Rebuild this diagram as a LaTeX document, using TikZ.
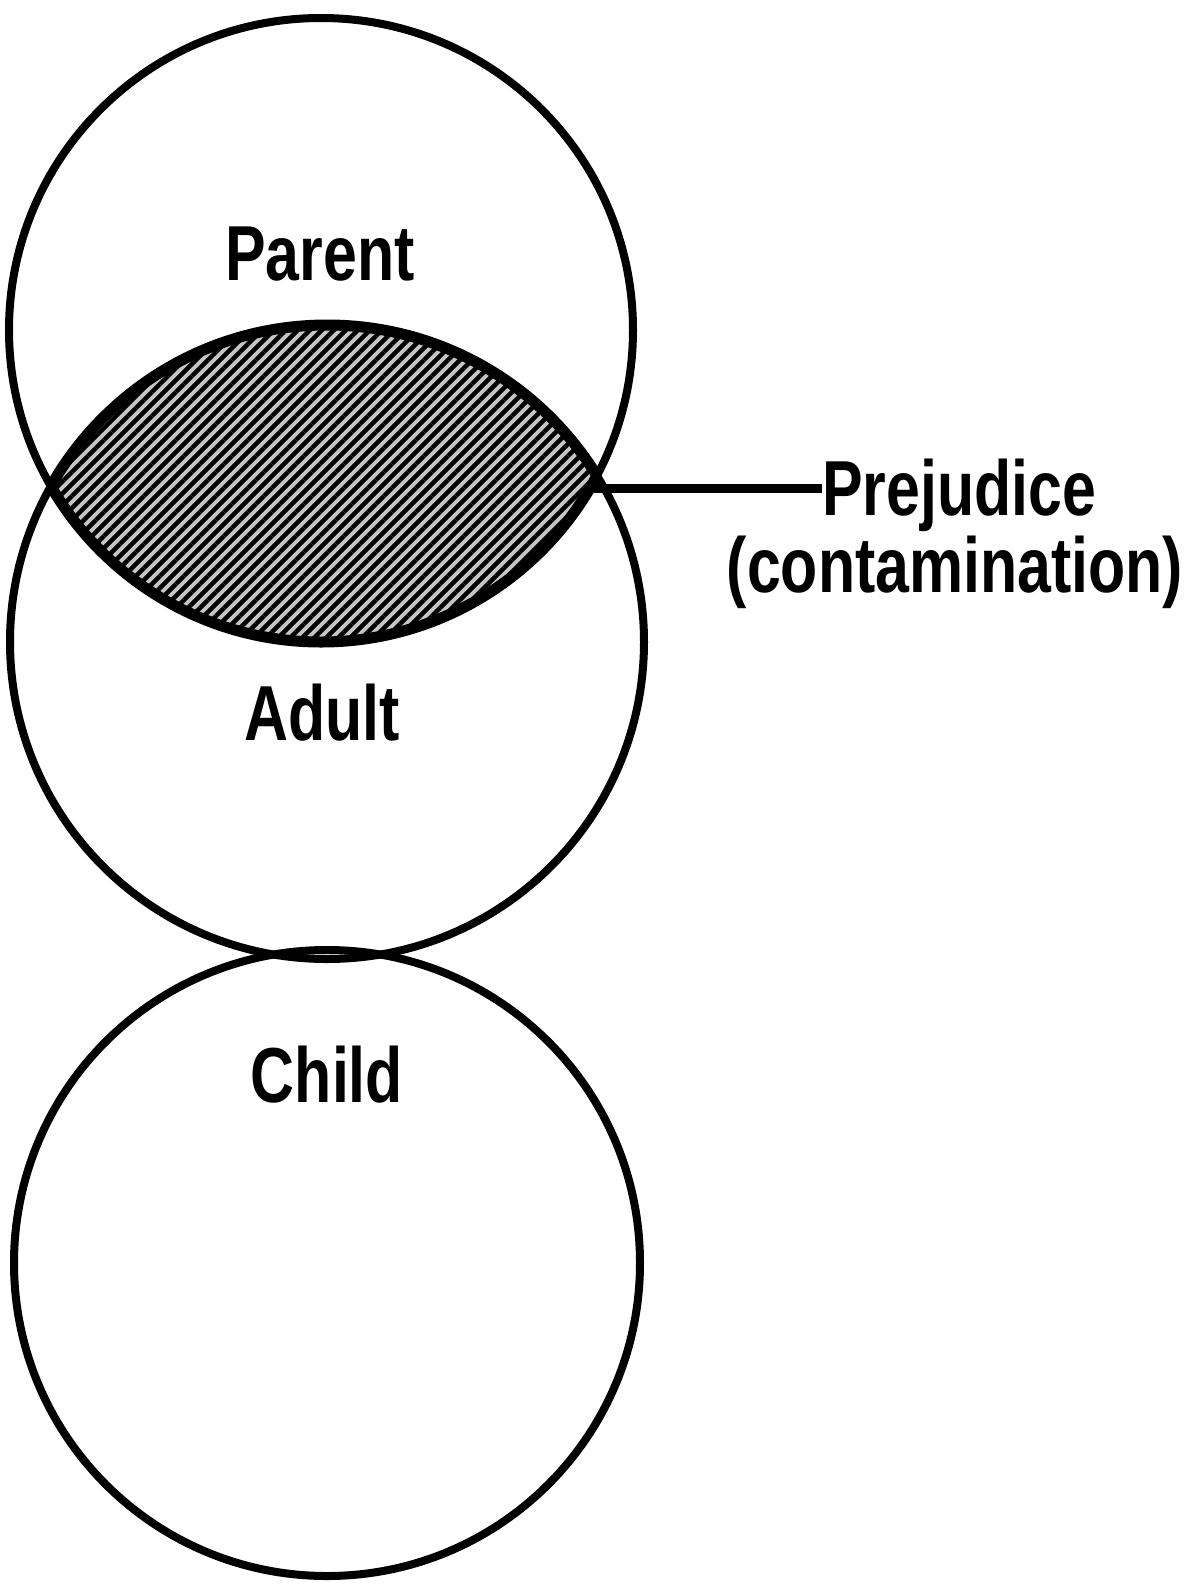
\documentclass[tikz,border=0pt]{standalone}
\usepackage{fontspec}
\newfontfamily\labfont[FakeStretch=0.78]{Liberation Sans}
\begin{document}
\begin{tikzpicture}[x=1pt,y=-1pt,
  ring/.style={circle, draw=black, line width=8pt, minimum size=#1, inner sep=0pt},
  lab/.style={font=\labfont\bfseries\fontsize{78}{80}\selectfont, anchor=base, inner sep=0pt},
  hatchline/.style={line width=4.5pt, black},
  lensborder/.style={line width=11pt, black}]
\useasboundingbox[fill=white] (0,0) rectangle (1192,1585);
% circles
\node[ring=624pt] (P) at (321,330) {};
\node[ring=634pt] (A) at (327,642) {};
\node[ring=626pt] (C) at (327,1263) {};
% hatched lens
\begin{scope}
  \clip (P.center) circle[radius=312pt];
  \clip (A.center) circle[radius=317pt];
  \fill[gray!45] (0,300) rectangle (700,700);
  \foreach \c in {340,352,...,1280}
    \draw[hatchline] (\c-720,720) -- (\c-280,280);
\end{scope}
\begin{scope}
  \clip (P.center) circle[radius=312pt];
  \draw[lensborder] (A.center) circle[radius=317pt];
\end{scope}
\begin{scope}
  \clip (A.center) circle[radius=317pt];
  \draw[lensborder] (P.center) circle[radius=312pt];
\end{scope}
% labels
\node[lab] (parent) at (320,280) {Parent};
\node[lab] (adult) at (322,740) {Adult};
\node[lab] (child) at (327,1102) {Child};
\node[lab, anchor=base west] (prej) at (822,515) {Prejudice};
\node[lab] (contam) at (955,592) {(contamination)};
% connector
\coordinate (lensR) at (594,488);
\draw[line width=9pt] (lensR) -- (lensR -| prej.west);
\end{tikzpicture}
\end{document}
